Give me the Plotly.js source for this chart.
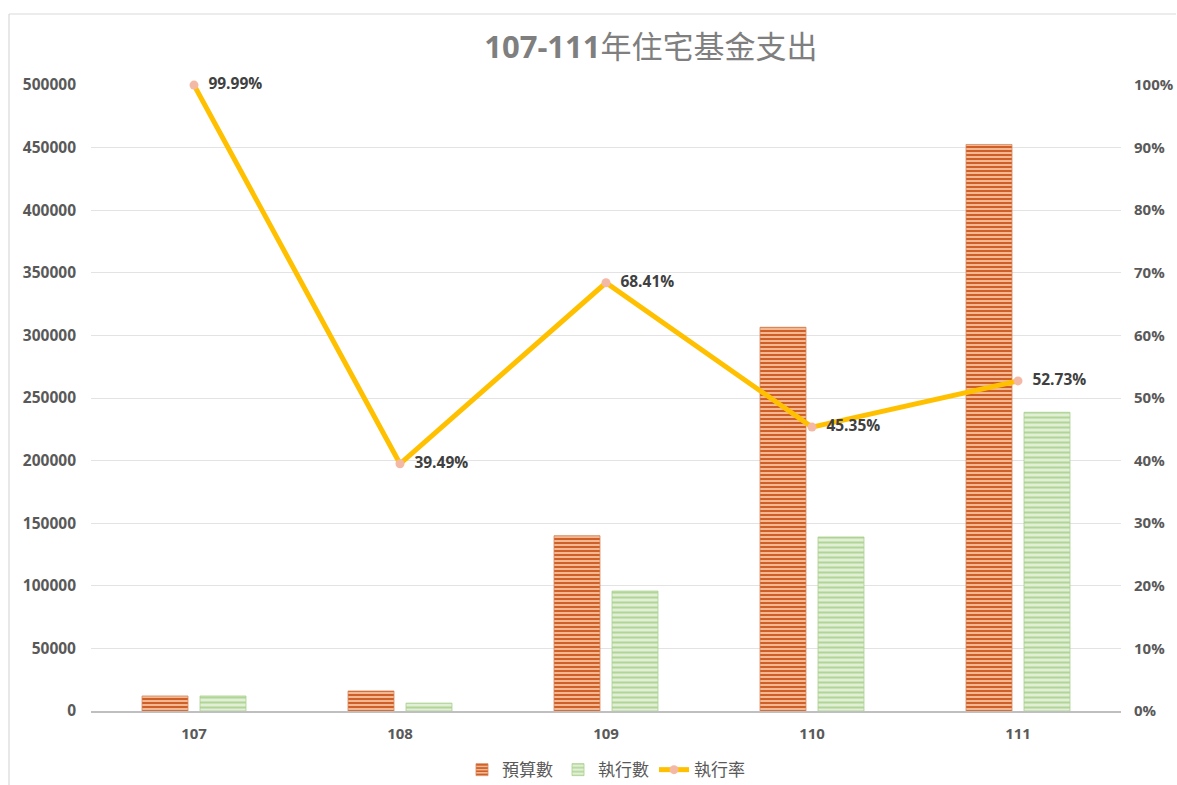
<!DOCTYPE html>
<html>
<head>
<meta charset="utf-8">
<script src="https://cdn.plot.ly/plotly-3.0.1.min.js"></script>
<style>html,body{margin:0;padding:0;background:#fff;}#chart{width:1177px;height:785px;}</style>
</head>
<body>
<div id="chart"></div>
<script>
const years = ['107', '108', '109', '110', '111'];
const budget = [12000, 16000, 140000, 306500, 452500];
const executed = [12000, 6300, 95800, 139000, 238600];
const rate = [0.9999, 0.3949, 0.6841, 0.4535, 0.5273];
const rateLabels = ['99.99%', '39.49%', '68.41%', '45.35%', '52.73%'];
const leftTicks = [0, 50000, 100000, 150000, 200000, 250000, 300000, 350000, 400000, 450000, 500000];
const rightTicks = [0, 0.1, 0.2, 0.3, 0.4, 0.5, 0.6, 0.7, 0.8, 0.9, 1.0];

const FONT = 'Open Sans, "Noto Sans CJK TC", sans-serif';

const traces = [
  {
    type: 'bar', name: '預算數', x: years, y: budget,
    marker: {
      color: '#F0B893',
      line: {color: '#D9865A', width: 0.8},
      pattern: {shape: '-', fgcolor: '#CF5F26', bgcolor: '#F0B893', size: 4, solidity: 0.5}
    },
    hoverinfo: 'skip'
  },
  {
    type: 'bar', name: '執行數', x: years, y: executed,
    marker: {
      color: '#E0EFD6',
      line: {color: '#A9D18E', width: 0.8},
      pattern: {shape: '-', fgcolor: '#B0D596', bgcolor: '#E0EFD6', size: 5, solidity: 0.4}
    },
    hoverinfo: 'skip'
  },
  {
    type: 'scatter', mode: 'lines+markers+text', name: '執行率', x: years, y: rate,
    yaxis: 'y2',
    line: {color: '#FFC000', width: 5},
    marker: {color: '#F4B9A4', size: 9},
    text: rateLabels.map(s => '\u2002' + s), textposition: 'middle right',
    textfont: {family: FONT, size: 15.5, color: '#404040', weight: 'bold'},
    cliponaxis: false,
    hoverinfo: 'skip'
  }
];

const layout = {
  width: 1177, height: 785,
  margin: {l: 91, r: 56, t: 85, b: 74},
  paper_bgcolor: '#ffffff', plot_bgcolor: '#ffffff',
  font: {family: FONT, color: '#595959'},
  title: {
    text: '<b>107-111</b>年住宅基金支出',
    x: 0.553, xref: 'container', xanchor: 'center',
    y: 0.94, yref: 'container', yanchor: 'middle',
    font: {family: FONT, size: 31, color: '#7F7F7F'}
  },
  barmode: 'group', bargap: 0.437, bargroupgap: 0.207,
  xaxis: {
    type: 'category',
    showgrid: false, zeroline: false,
    showline: true, linecolor: '#BFBFBF', linewidth: 1.5,
    ticks: '', ticklabelstandoff: 8, automargin: false,
    tickfont: {family: FONT, size: 15, color: '#595959', weight: 'bold'}
  },
  yaxis: {
    range: [0, 500000], tickvals: leftTicks, ticktext: leftTicks.map(v => String(v)),
    showgrid: true, gridcolor: '#E3E3E3', gridwidth: 1, automargin: false,
    zeroline: false, showline: false, ticks: '', ticklabelstandoff: 14,
    tickfont: {family: FONT, size: 15.5, color: '#595959', weight: 'bold'}
  },
  yaxis2: {
    overlaying: 'y', side: 'right', automargin: false,
    range: [0, 1], tickvals: rightTicks, ticktext: rightTicks.map(v => Math.round(v * 100) + '%'),
    showgrid: false, zeroline: false, showline: false, ticks: '', ticklabelstandoff: 12,
    tickfont: {family: FONT, size: 15, color: '#595959', weight: 'bold'}
  },
  legend: {
    orientation: 'h', x: 0.5, xanchor: 'center', xref: 'paper',
    y: 0.019, yanchor: 'middle', yref: 'container',
    font: {family: FONT, size: 17, color: '#595959'},
    itemwidth: 30, traceorder: 'normal'
  },
  showlegend: true,
  shapes: [
    {type: 'line', xref: 'paper', yref: 'paper', x0: (9 - 91) / 1030, x1: (1176 - 91) / 1030, y0: (711 - 14) / 626, y1: (711 - 14) / 626, line: {color: '#D9D9D9', width: 1.2}},
    {type: 'line', xref: 'paper', yref: 'paper', x0: (9 - 91) / 1030, x1: (9 - 91) / 1030, y0: (711 - 14) / 626, y1: (711 - 790) / 626, line: {color: '#D9D9D9', width: 1.2}}
  ]
};

Plotly.newPlot('chart', traces, layout, {displayModeBar: false, staticPlot: true});
</script>
</body>
</html>
